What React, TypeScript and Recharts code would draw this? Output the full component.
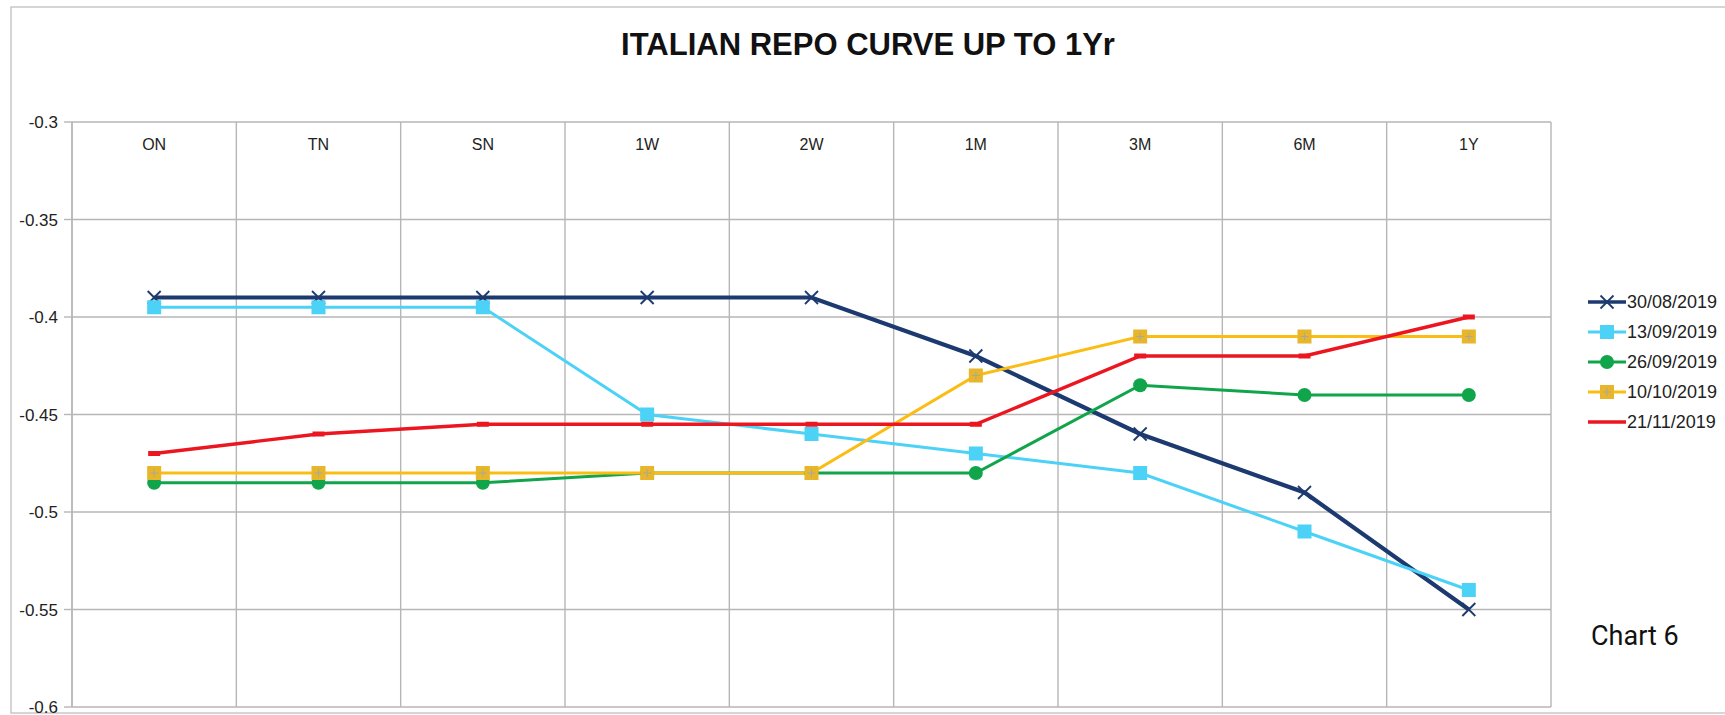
import React from "react";
import { LineChart, Line, XAxis, YAxis, CartesianGrid } from "recharts";

const categories = ["ON", "TN", "SN", "1W", "2W", "1M", "3M", "6M", "1Y"];
const s3008 = [-0.39, -0.39, -0.39, -0.39, -0.39, -0.42, -0.46, -0.49, -0.55];
const s1309 = [-0.395, -0.395, -0.395, -0.45, -0.46, -0.47, -0.48, -0.51, -0.54];
const s2609 = [-0.485, -0.485, -0.485, -0.48, -0.48, -0.48, -0.435, -0.44, -0.44];
const s1010 = [-0.48, -0.48, -0.48, -0.48, -0.48, -0.43, -0.41, -0.41, -0.41];
const s2111 = [-0.47, -0.46, -0.455, -0.455, -0.455, -0.455, -0.42, -0.42, -0.4];
const yTicks = [-0.6, -0.55, -0.5, -0.45, -0.4, -0.35, -0.3];

const series = [
  { key: "30/08/2019", values: s3008, color: "#1c3a70", width: 4.2, marker: "x" },
  { key: "13/09/2019", values: s1309, color: "#4cd2f6", width: 3, marker: "square" },
  { key: "26/09/2019", values: s2609, color: "#10a54a", width: 3, marker: "circle" },
  { key: "10/10/2019", values: s1010, color: "#fbbd14", width: 3, marker: "ysquare" },
  { key: "21/11/2019", values: s2111, color: "#ec1620", width: 3.4, marker: "dash" },
];

const data = categories.map((c, i) => {
  const row: any = { cat: c };
  series.forEach((s) => (row[s.key] = s.values[i]));
  return row;
});

const GRID = "#b6b6b6";
const FONT = "'Liberation Sans', Arial, sans-serif";

function Marker({ type, cx, cy, color }: any) {
  if (cx == null || cy == null) return null;
  if (type === "x") {
    const d = 6.5;
    return (
      <g>
        <line x1={cx - d} y1={cy - d} x2={cx + d} y2={cy + d} stroke={color} strokeWidth={1.8} />
        <line x1={cx - d} y1={cy + d} x2={cx + d} y2={cy - d} stroke={color} strokeWidth={1.8} />
      </g>
    );
  }
  if (type === "square") {
    return <rect x={cx - 7} y={cy - 7} width={14} height={14} fill={color} />;
  }
  if (type === "ysquare") {
    return (
      <g>
        <rect x={cx - 7} y={cy - 7} width={14} height={14} fill="#e8b62a" />
        <line x1={cx - 4} y1={cy} x2={cx + 4} y2={cy} stroke="#a8a8a0" strokeWidth={1} />
        <line x1={cx} y1={cy - 4} x2={cx} y2={cy + 4} stroke="#a8a8a0" strokeWidth={1} />
      </g>
    );
  }
  if (type === "circle") {
    return <circle cx={cx} cy={cy} r={7} fill={color} />;
  }
  if (type === "dash") {
    return <rect x={cx - 6} y={cy - 2.5} width={12} height={5} fill={color} />;
  }
  return null;
}

const CatTick = (props: any) => {
  const { x, y, payload } = props;
  return (
    <text x={x} y={y + 28} textAnchor="middle" fontSize={16} fontFamily={FONT} fill="#222">
      {payload.value}
    </text>
  );
};

const LegendBox = () => (
  <div style={{ position: "absolute", left: 1586, top: 287, width: 140, display: "flex", flexDirection: "column" }}>
    {series.map((s) => (
      <div key={s.key} style={{ height: 30, display: "flex", alignItems: "center" }}>
        <svg width={40} height={20} style={{ display: "block" }}>
          <line x1={2} y1={10} x2={40} y2={10} stroke={s.color} strokeWidth={s.width > 3.5 ? 3.5 : s.width} />
          <Marker type={s.marker === "dash" ? "none" : s.marker} cx={21} cy={10} color={s.color} />
        </svg>
        <span style={{ fontFamily: FONT, fontSize: 18, color: "#222", marginLeft: 1 }}>{s.key}</span>
      </div>
    ))}
  </div>
);

export default function App() {
  return (
    <div style={{ position: "absolute", left: 0, top: 0, width: 1725, height: 715, background: "#fff" }}>
      <svg width={1725} height={715} style={{ position: "absolute", left: 0, top: 0 }}>
        <rect x={11} y={7} width={1730} height={706} fill="none" stroke="#c8c8c8" strokeWidth={1.5} />
        <text x={868} y={55} textAnchor="middle" fontSize={31} fontWeight="bold" fontFamily={FONT} fill="#111">
          ITALIAN REPO CURVE UP TO 1Yr
        </text>
        <text x={1591} y={645} fontSize={27} fontFamily="Roboto, sans-serif" fill="#111">
          Chart 6
        </text>
      </svg>
      <div style={{ position: "absolute", left: 0, top: 0 }}>
        <LineChart width={1725} height={715} data={data} margin={{ top: 92, right: 174, bottom: 8, left: 0 }}>
          <CartesianGrid
            stroke={GRID}
            strokeWidth={1.4}
            verticalCoordinatesGenerator={({ offset }: any) =>
              categories.map((_, i) => offset.left + (i * offset.width) / categories.length).concat(offset.left + offset.width)
            }
          />
          <XAxis
            dataKey="cat"
            orientation="top"
            scale="band"
            height={30}
            axisLine={false}
            tickLine={false}
            tickSize={0}
            tickMargin={0}
            interval={0}
            tick={<CatTick />}
          />
          <YAxis
            width={72}
            domain={[-0.6, -0.3]}
            ticks={yTicks}
            interval={0}
            allowDataOverflow
            axisLine={{ stroke: GRID, strokeWidth: 1.4 }}
            tickLine={{ stroke: GRID, strokeWidth: 1.4 }}
            tickSize={8}
            tickMargin={6}
            tick={{ fontSize: 17, fontFamily: FONT, fill: "#222" }}
            tickFormatter={(v: number) => String(Number(v.toFixed(2)))}
          />
          {series.map((s) => (
            <Line
              key={s.key}
              type="linear"
              dataKey={s.key}
              stroke={s.color}
              strokeWidth={s.width}
              isAnimationActive={false}
              dot={(p: any) => <Marker key={`${s.key}-${p.index}`} type={s.marker} cx={p.cx} cy={p.cy} color={s.color} />}
              activeDot={false}
            />
          ))}
        </LineChart>
      </div>
      <LegendBox />
    </div>
  );
}
